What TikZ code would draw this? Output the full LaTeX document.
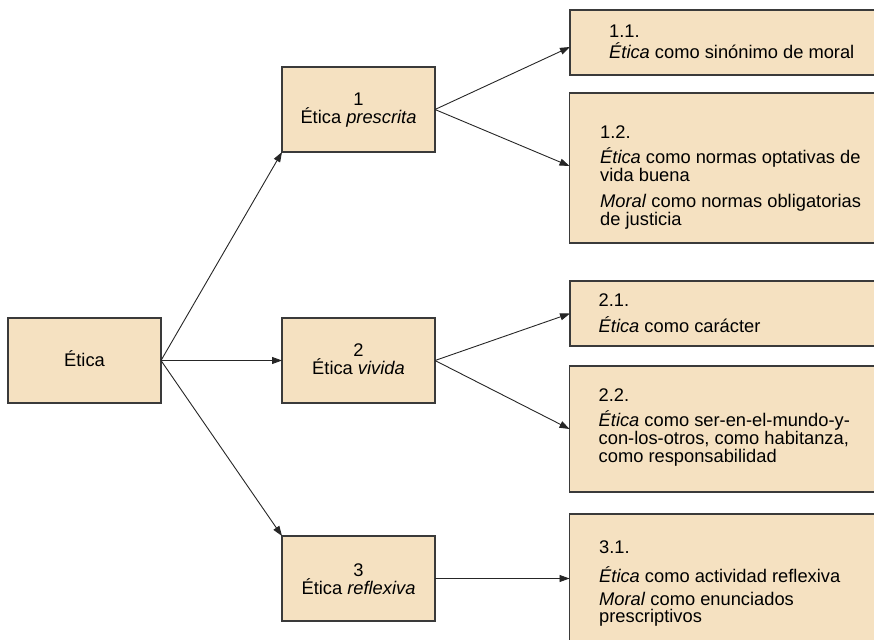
\documentclass[tikz,border=0pt]{standalone}
\usepackage{fontspec}
\setmainfont{Liberation Sans}
\usetikzlibrary{arrows.meta}
\definecolor{boxfill}{RGB}{245,225,193}
\definecolor{boxline}{RGB}{58,58,58}
\begin{document}
\begin{tikzpicture}[x=1pt,y=-1pt,font=\fontsize{18.3}{18}\selectfont,
  box/.style={draw=boxline, fill=boxfill, line width=1.2pt, inner sep=0pt, outer sep=0pt, anchor=north west},
  txt/.style={anchor=base west, inner sep=0pt},
  ctxt/.style={anchor=base, inner sep=0pt},
  arr/.style={-{Triangle[length=10pt,width=7pt]}, line width=0.9pt, draw=black!85}]
\clip (0,0) rectangle (874,639);
\useasboundingbox (0,0) rectangle (874,639);
% left box
\node[box, minimum width=153pt, minimum height=85pt] (etica) at (8,318) {};
\node[ctxt] (t0) at (84.5,366.5) {Ética};
% middle boxes
\node[box, minimum width=153pt, minimum height=85pt] (p1) at (282,67) {};
\node[box, minimum width=153pt, minimum height=85pt] (p2) at (282,318) {};
\node[box, minimum width=153pt, minimum height=85pt] (p3) at (282,536) {};
\node[ctxt] (p1a) at (358.5,105.5) {1};
\node[ctxt] (p1b) at (358.5,123.5) {Ética \textit{prescrita}};
\node[ctxt] (p2a) at (358.5,356.5) {2};
\node[ctxt] (p2b) at (358.5,374.5) {Ética \textit{vivida}};
\node[ctxt] (p3a) at (358.5,576) {3};
\node[ctxt] (p3b) at (358.5,594) {Ética \textit{reflexiva}};
% right boxes
\node[box, minimum width=310pt, minimum height=65pt] (r11) at (570,10) {};
\node[box, minimum width=310pt, minimum height=150pt] (r12) at (569.5,93) {};
\node[box, minimum width=310pt, minimum height=65pt] (r21) at (570,281) {};
\node[box, minimum width=310pt, minimum height=126pt] (r22) at (569.5,366) {};
\node[box, minimum width=310pt, minimum height=129pt] (r31) at (569.5,514) {};
% right texts
\node[txt] (r11a) at (609,37.7) {1.1.};
\node[txt] (r11b) at (609,59) {\textit{Ética} como sinónimo de moral};
\node[txt] (r12a) at (600,138.3) {1.2.};
\node[txt] (r12b) at (600,163.3) {\textit{Ética} como normas optativas de};
\node[txt] (r12c) at (600,181.5) {vida buena};
\node[txt] (r12d) at (600,207.3) {\textit{Moral} como normas obligatorias};
\node[txt] (r12e) at (600,225.3) {de justicia};
\node[txt] (r21a) at (598.5,306.7) {2.1.};
\node[txt] (r21b) at (598.5,332.7) {\textit{Ética} como carácter};
\node[txt] (r22a) at (598.5,401.7) {2.2.};
\node[txt] (r22b) at (598.5,426) {\textit{Ética} como ser-en-el-mundo-y-};
\node[txt] (r22c) at (598.5,444) {con-los-otros, como habitanza,};
\node[txt] (r22d) at (598.5,462) {como responsabilidad};
\node[txt] (r31a) at (599,553) {3.1.};
\node[txt] (r31b) at (599,582) {\textit{Ética} como actividad reflexiva};
\node[txt] (r31c) at (599,605) {\textit{Moral} como enunciados};
\node[txt] (r31d) at (599,622.5) {prescriptivos};
% arrows
\draw[arr] (etica.east) -- (p1.south west);
\draw[arr] (etica.east) -- (p2.west);
\draw[arr] (etica.east) -- (p3.north west);
\draw[arr] (p1.east) -- ([yshift=-4.5pt]r11.west);
\draw[arr] (p1.east) -- ([yshift=2pt]r12.west);
\draw[arr] (p2.east) -- (r21.west);
\draw[arr] (p2.east) -- (r22.west);
\draw[arr] (p3.east) -- (r31.west);
\end{tikzpicture}
\end{document}
